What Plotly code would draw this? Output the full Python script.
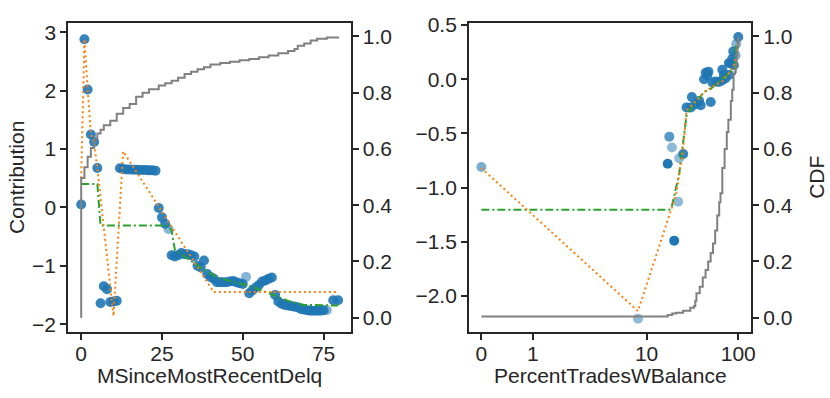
import math
import plotly.graph_objects as go

# ---------------- Left panel data: MSinceMostRecentDelq ----------------
left_x = [0, 1, 2, 3, 4, 5, 6, 7, 8, 9, 10, 11,
          12, 13, 14, 15, 16, 17, 18, 19, 20, 21, 22, 23,
          24, 25, 26, 27, 28, 29, 30, 31, 32, 33, 34, 35,
          36, 37, 38, 39, 40, 41, 42, 43, 44, 45, 46, 47, 48, 49, 50,
          51, 52, 53, 54, 55, 56, 57, 58, 59, 60, 61, 62, 63, 64, 65,
          66, 67, 68, 69, 70, 71, 72, 73, 74, 75, 76, 78, 79.5]
left_contrib = [0.05, 2.88, 2.02, 1.25, 1.12, 0.675, -1.64, -1.35, -1.40, -1.62, -1.61, -1.60,
                0.67, 0.66, 0.65, 0.65, 0.645, 0.645, 0.64, 0.64, 0.64, 0.635, 0.635, 0.63,
                -0.01, -0.17, -0.28, -0.37, -0.82, -0.84, -0.82, -0.78, -0.80, -0.80, -0.82, -0.84,
                -1.00, -1.03, -0.91, -1.14, -1.19, -1.22, -1.28, -1.28, -1.28, -1.28, -1.27, -1.26, -1.28, -1.30, -1.31,
                -1.19, -1.47, -1.42, -1.37, -1.33, -1.27, -1.25, -1.22, -1.20, -1.50, -1.61, -1.65, -1.67, -1.68, -1.69,
                -1.70, -1.71, -1.74, -1.75, -1.76, -1.77, -1.77, -1.77, -1.77, -1.76, -1.76, -1.59, -1.59]
left_alpha = [0.9] * len(left_x)
for i, xv in enumerate(left_x):
    if xv in (27, 51, 76):
        left_alpha[i] = 0.55

left_fit_x = [0, 1, 2, 3, 4, 5, 10, 13, 41, 79.5]
left_fit_y = [0.5, 2.88, 2.02, 1.25, 1.10, 0.67, -1.86, 0.96, -1.45, -1.45]

left_smooth_x = [0, 5, 6, 27, 28, 29, 32, 38, 42, 49, 53, 59, 64, 69, 79.5]
left_smooth_y = [0.40, 0.40, -0.31, -0.31, -0.40, -0.73, -0.84, -1.07, -1.20, -1.31, -1.36, -1.49, -1.60, -1.67, -1.68]

left_cdf_x = [0, 0, 1, 2, 3, 4, 5, 6, 7, 9, 11, 13, 15, 17, 19, 21, 24, 26, 28, 30, 32, 34,
              36, 38, 40, 43, 46, 49, 52, 55, 58, 61, 64, 66, 67, 69, 71, 73, 76, 79.5]
left_cdf_y = [0.0, 0.497, 0.535, 0.572, 0.603, 0.638, 0.655, 0.668, 0.684, 0.700, 0.725, 0.745,
              0.760, 0.785, 0.800, 0.812, 0.825, 0.833, 0.842, 0.853, 0.866, 0.874, 0.883, 0.890,
              0.900, 0.905, 0.910, 0.915, 0.920, 0.926, 0.932, 0.940, 0.948, 0.955, 0.967, 0.975,
              0.985, 0.992, 0.996, 1.0]

# ---------------- Right panel data: PercentTradesWBalance ----------------
right_x = [0, 8.4, 17.0, 17.7, 18.9, 20.0, 22.1, 22.7, 25.1, 27.3, 30.4, 31.2, 34.4, 37.4,
           39.0, 42.4, 44.2, 46.1, 47.3, 50.1, 52.2, 56.8, 61.7, 67.1, 67.1, 69.8, 72.8,
           79.1, 79.1, 82.5, 86.1, 88.3, 89.6, 93.5, 95.1, 100]
right_contrib = [-0.81, -2.21, -0.78, -0.53, -0.63, -1.49, -1.13, -0.73, -0.69, -0.26, -0.26, -0.165,
                 -0.23, -0.20, -0.24, 0.0, 0.06, 0.04, 0.07, -0.21, -0.03, -0.02, -0.025, 0.087,
                 -0.01, 0.04, 0.01, 0.04, 0.15, 0.146, 0.19, 0.257, 0.13, 0.22, 0.325, 0.39]
right_alpha = [0.6, 0.5, 1.0, 0.75, 0.5, 1.0, 0.5, 0.5, 0.9, 0.9, 0.9, 0.9, 0.9, 0.9,
               0.9, 0.9, 0.9, 0.9, 0.9, 0.9, 0.9, 0.9, 0.9, 0.9, 0.9, 0.9, 0.9,
               0.9, 0.9, 0.9, 0.9, 0.9, 0.9, 0.55, 0.55, 0.9]

right_fit_x = [0, 8.4, 20.9, 22.7, 24.9, 27.3, 34.4, 42.4, 50.1, 67.1, 79.1, 89.6, 95.1, 100]
right_fit_y = [-0.82, -2.14, -1.07, -0.88, -0.67, -0.29, -0.197, -0.12, -0.078, -0.018, 0.056, 0.13, 0.22, 0.37]

right_smooth_x = [0, 17.7, 18.9, 22.7, 27.3, 30.4, 42.4, 50.1, 56.8, 79.1, 91.9, 95.1, 100]
right_smooth_y = [-1.205, -1.205, -1.17, -0.87, -0.33, -0.27, -0.116, -0.09, -0.047, 0.055, 0.10, 0.31, 0.36]

right_cdf_x = [0, 17, 19, 21, 25, 30, 33, 34, 35, 38, 41, 44, 47, 50, 53, 56, 59, 62, 64, 67,
               71, 75, 78, 83, 86, 89, 92, 94, 96, 98, 99, 100]
right_cdf_y = [0.004, 0.010, 0.015, 0.018, 0.025, 0.035, 0.042, 0.060, 0.087, 0.110, 0.143, 0.170,
               0.200, 0.230, 0.264, 0.310, 0.363, 0.410, 0.442, 0.532, 0.600, 0.660, 0.704, 0.770,
               0.810, 0.866, 0.873, 0.900, 0.930, 0.960, 0.975, 1.0]

right_tick_vals = [0, 1, 10, 100]
right_tick_text = ["0", "1", "10", "100"]
cdf_ticks = [0.0, 0.2, 0.4, 0.6, 0.8, 1.0]


# mixed linear / log scale of the right x axis
def xscale(v):
    if v <= 1:
        return 51.7 * v
    if v <= 10:
        return 51.7 + 114.5 * math.log10(v)
    return 166.2 + 92.2 * math.log10(v / 10.0)


BLUE = "#1f77b4"
ORANGE = "#ff7f0e"
GREEN = "#2ca02c"
GRAY = "#808080"
INK = "#262626"
FONT = "Liberation Sans, Arial, sans-serif"

fig = go.Figure()

# left panel
fig.add_trace(go.Scatter(x=left_x, y=left_contrib, mode="markers", xaxis="x", yaxis="y",
                         marker=dict(color=BLUE, size=10, opacity=left_alpha, line=dict(width=0)),
                         showlegend=False))
fig.add_trace(go.Scatter(x=left_smooth_x, y=left_smooth_y, mode="lines", xaxis="x", yaxis="y",
                         line=dict(color=GREEN, width=2, dash="8px,3px,2px,3px"), showlegend=False))
fig.add_trace(go.Scatter(x=left_fit_x, y=left_fit_y, mode="lines", xaxis="x", yaxis="y",
                         line=dict(color=ORANGE, width=2, dash="2px,3px"), showlegend=False))
fig.add_trace(go.Scatter(x=left_cdf_x, y=left_cdf_y, mode="lines", xaxis="x", yaxis="y2",
                         line=dict(color=GRAY, width=2, shape="hv"), showlegend=False))

# right panel
fig.add_trace(go.Scatter(x=[xscale(v) for v in right_x], y=right_contrib, mode="markers",
                         xaxis="x2", yaxis="y3",
                         marker=dict(color=BLUE, size=10, opacity=right_alpha, line=dict(width=0)),
                         showlegend=False))
fig.add_trace(go.Scatter(x=[xscale(v) for v in right_smooth_x], y=right_smooth_y, mode="lines",
                         xaxis="x2", yaxis="y3",
                         line=dict(color=GREEN, width=2, dash="8px,3px,2px,3px"), showlegend=False))
fig.add_trace(go.Scatter(x=[xscale(v) for v in right_fit_x], y=right_fit_y, mode="lines",
                         xaxis="x2", yaxis="y3",
                         line=dict(color=ORANGE, width=2, dash="2px,3px"), showlegend=False))
fig.add_trace(go.Scatter(x=[xscale(v) for v in right_cdf_x], y=right_cdf_y, mode="lines",
                         xaxis="x2", yaxis="y4",
                         line=dict(color=GRAY, width=2, shape="hv"), showlegend=False))

tick_font = dict(family=FONT, size=21, color=INK)
title_font = dict(family=FONT, size=21, color=INK)
common = dict(showgrid=False, zeroline=False, showline=True, linecolor=INK, linewidth=1.6,
              ticks="outside", ticklen=6, tickwidth=1.5, tickcolor=INK, tickfont=tick_font)

Y_DOM = [0.1633, 0.9648]
LX = [0.0825, 0.4253]
RX = [0.5683, 0.9105]
TITLE_Y = (398 - 378.0) / 398

fig.update_layout(
    width=830, height=398,
    margin=dict(l=0, r=0, t=0, b=0),
    paper_bgcolor="white", plot_bgcolor="white",
    font=dict(family=FONT, color=INK),
    xaxis=dict(domain=LX, range=[-4.06, 83.45], anchor="y",
               tickvals=[0, 25, 50, 75], mirror=True, ticklabelstandoff=-4, **common),
    yaxis=dict(domain=Y_DOM, range=[-2.133, 3.166], anchor="x",
               tickvals=[-2, -1, 0, 1, 2, 3],
               title=dict(text="Contribution", font=title_font, standoff=2), **common),
    yaxis2=dict(overlaying="y", side="right", anchor="x", range=[-0.0507, 1.049],
                tickvals=cdf_ticks, ticktext=["%.1f" % v for v in cdf_ticks], **common),
    xaxis2=dict(domain=RX, range=[xscale(0) - 12.6, xscale(0) + 271.4], anchor="y3",
                tickvals=[xscale(v) for v in right_tick_vals], ticktext=right_tick_text,
                mirror=True, ticklabelstandoff=-4, **common),
    yaxis3=dict(domain=Y_DOM, range=[-2.333, 0.523], anchor="x2",
                tickvals=[-2.0, -1.5, -1.0, -0.5, 0.0, 0.5], tickformat=".1f", **common),
    yaxis4=dict(overlaying="y3", side="right", anchor="x2", range=[-0.0507, 1.049],
                tickvals=cdf_ticks, ticktext=["%.1f" % v for v in cdf_ticks],
                title=dict(text="CDF", font=title_font, standoff=18), **common),
    annotations=[
        dict(text="MSinceMostRecentDelq", xref="paper", yref="paper",
             x=(LX[0] + LX[1]) / 2, y=TITLE_Y, xanchor="center", yanchor="middle",
             showarrow=False, font=title_font, borderpad=0),
        dict(text="PercentTradesWBalance", xref="paper", yref="paper",
             x=(RX[0] + RX[1]) / 2, y=TITLE_Y, xanchor="center", yanchor="middle",
             showarrow=False, font=title_font, borderpad=0),
    ],
)

fig.write_html("out.html", config={"displayModeBar": False},
               post_script="document.body.style.margin='0';document.body.style.overflow='hidden';")
